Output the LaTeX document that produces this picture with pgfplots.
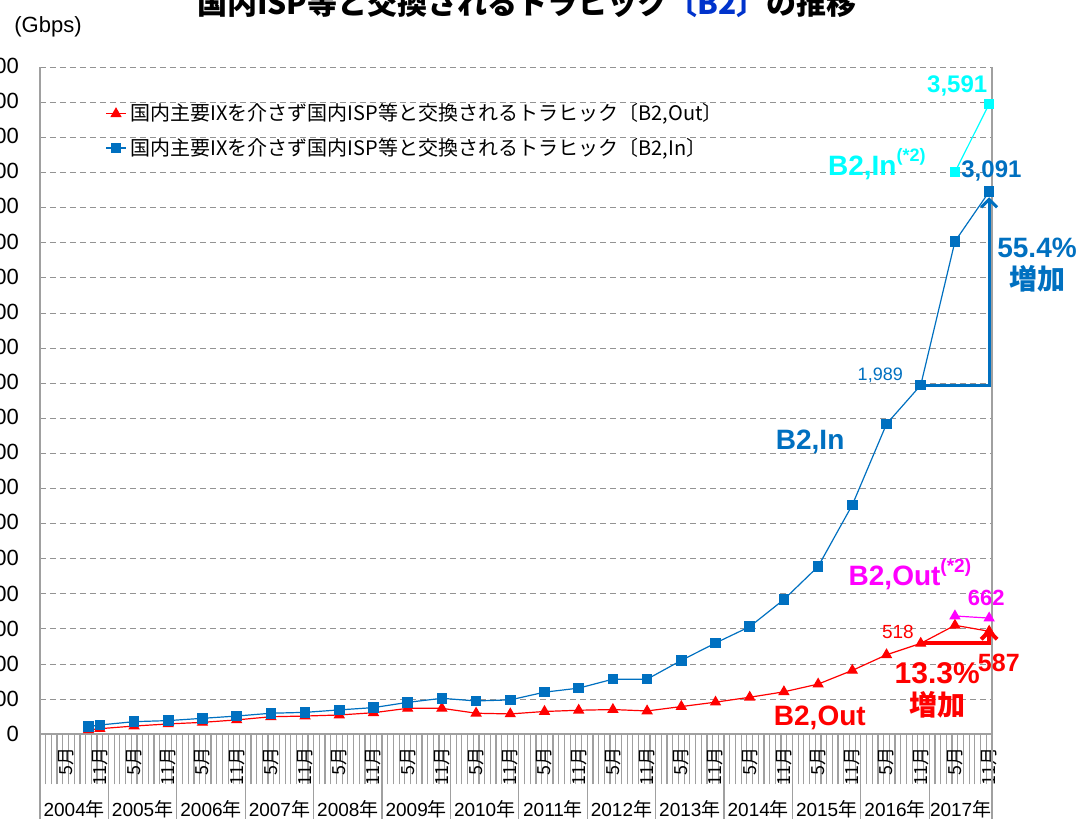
\documentclass[border=0pt]{standalone}
\usepackage{fontspec}
\setmainfont{Liberation Sans}
\newfontfamily\jp{Noto Sans CJK JP}
\usepackage{pgfplots}
\pgfplotsset{compat=1.18}
\usetikzlibrary{arrows.meta}
\definecolor{inblue}{RGB}{0,112,192}
\definecolor{outred}{RGB}{255,0,0}
\definecolor{incyan}{RGB}{0,255,255}
\definecolor{outmag}{RGB}{255,0,255}
\definecolor{titleblue}{RGB}{0,51,204}
\definecolor{axgray}{RGB}{160,160,160}

\begin{document}
\begin{tikzpicture}
% the reference image is cropped on the left and at the top
\path[use as bounding box, clip] (-20pt,-42.35pt) rectangle (519pt,367.15pt);
\begin{axis}[
  at={(0,0)}, anchor=south west,
  scale only axis, width=476pt, height=333.5pt,
  xmin=0, xmax=167, ymin=0, ymax=3800,
  clip=false,
  axis lines*=left,
  axis line style={axgray, line width=0.9pt},
  ytick={0,200,...,3800},
  ymajorgrids,
  grid style={densely dashed, gray!85, line width=0.5pt},
  ytick style={draw=none},
  scaled y ticks=false,
  /pgf/number format/assume math mode=true,
  /pgf/number format/1000 sep={,},
  yticklabel style={font=\fontsize{11}{13}\selectfont, xshift=-7pt},
  xtick={4.5,10.5,...,166.5},
  xticklabels={5月,11月,5月,11月,5月,11月,5月,11月,5月,11月,5月,11月,5月,11月,
               5月,11月,5月,11月,5月,11月,5月,11月,5月,11月,5月,11月,5月,11月},
  xticklabel style={font=\jp\fontsize{9}{10}\selectfont, rotate=90, anchor=east},
  xticklabel shift=3pt,
  major tick length=0pt,
  minor xtick={0,1,...,167},
  minor tick length=25pt,
  tick align=outside,
  minor tick style={axgray, line width=0.6pt},
  legend style={at={(0.062,0.958)}, anchor=north west, draw=none, fill=none,
    font=\jp\fontsize{10}{11}\selectfont, row sep=3pt},
  legend cell align=left,
  legend image code/.code={\draw[mark repeat=2, mark phase=2, #1]
    plot coordinates {(0pt,0pt) (5pt,0pt) (10pt,0pt)};},
]

% B2,Out
\addplot[color=outred, line width=0.6pt, mark=triangle*, mark size=2.7pt,
  mark options={solid}] coordinates {
  (8.5,25) (10.5,32) (16.5,47) (22.5,59) (28.5,68) (34.5,82) (40.5,100)
  (46.5,104) (52.5,110) (58.5,123) (64.5,148) (70.5,148) (76.5,120) (82.5,116)
  (88.5,130) (94.5,137) (100.5,141) (106.5,133) (112.5,158) (118.5,183)
  (124.5,211) (130.5,242) (136.5,286) (142.5,364) (148.5,453) (154.5,518)
  (160.5,621) (166.5,587)
};
\addlegendentry{国内主要IXを介さず国内ISP等と交換されるトラヒック〔B2,Out〕}

% B2,In
\addplot[color=inblue, line width=0.6pt, mark=square*, mark size=2.35pt,
  mark options={solid}] coordinates {
  (8.5,43) (10.5,53) (16.5,72) (22.5,78) (28.5,91) (34.5,104) (40.5,120)
  (46.5,125) (52.5,139) (58.5,152) (64.5,182) (70.5,205) (76.5,190) (82.5,196)
  (88.5,240) (94.5,263) (100.5,314) (106.5,314) (112.5,421) (118.5,520)
  (124.5,613) (130.5,768) (136.5,956) (142.5,1307) (148.5,1768) (154.5,1989)
  (160.5,2808) (166.5,3091)
};
\addlegendentry{国内主要IXを介さず国内ISP等と交換されるトラヒック〔B2,In〕}

% revised series (*2)
\addplot[forget plot, color=incyan, line width=0.6pt, mark=square*, mark size=2.35pt]
  coordinates {(160.5,3203) (166.5,3591)};
\addplot[forget plot, color=outmag, line width=0.6pt, mark=triangle*, mark size=2.7pt]
  coordinates {(160.5,674) (166.5,662)};

% year separators and labels
\pgfplotsinvokeforeach{0,1,...,13}{
  \draw[axgray, line width=0.6pt] (axis cs:{12*#1},0) -- ++(0pt,-46pt);
}
\draw[axgray, line width=0.9pt] (axis cs:167,0) -- ++(0pt,-46pt);
\draw[axgray, line width=0.9pt] (rel axis cs:1,0) -- (rel axis cs:1,1);
\pgfplotsinvokeforeach{0,1,...,12}{
  \node[font=\fontsize{9.5}{10}\selectfont] at (axis cs:{12*#1+6},0)
    [yshift=-37.5pt] {\the\numexpr2004+#1\relax{\jp 年}};
}
\node[font=\fontsize{9.5}{10}\selectfont] at (axis cs:161.5,0)
  [yshift=-37.5pt] {2017{\jp 年}};

% titles
\node[anchor=base, font=\jp\bfseries\fontsize{15}{16}\selectfont]
  at (axis cs:85.4,4100) {国内ISP等と交換されるトラヒック\textcolor{titleblue}{〔B2〕}の推移};
\node[font=\fontsize{11}{12}\selectfont] at (axis cs:1.4,4030) {(Gbps)};

% annotations
\draw[inblue, line width=1.5pt, -{Straight Barb[length=4pt, width=8pt]}]
  (axis cs:154.5,1989) -- (axis cs:166.5,1989) -- (axis cs:166.5,3060);
\draw[outred, line width=2pt, -{Straight Barb[length=4pt, width=8pt]}]
  (axis cs:154.5,518) -- (axis cs:166.5,518) -- (axis cs:166.5,603);

\node[text=incyan, font=\bfseries\fontsize{12}{13}\selectfont]
  at (axis cs:160.9,3694) {3,591};
\node[text=incyan, font=\bfseries\fontsize{14}{15}\selectfont]
  at (axis cs:146.8,3249) {B2,In\raisebox{0.9ex}{\fontsize{9}{9}\selectfont(*2)}};
\node[text=inblue, font=\bfseries\fontsize{12}{13}\selectfont]
  at (axis cs:166.9,3209) {3,091};
\node[text=inblue, font=\bfseries\fontsize{14}{16}\selectfont, align=center]
  at (axis cs:174.9,2673) {55.4\%\\{\jp 増加}};
\node[text=inblue, font=\fontsize{9}{10}\selectfont]
  at (axis cs:147.4,2046) {1,989};
\node[text=inblue, font=\bfseries\fontsize{14}{16}\selectfont]
  at (axis cs:135.1,1666) {B2,In};

\node[text=outmag, font=\bfseries\fontsize{14}{15}\selectfont]
  at (axis cs:152.6,910) {B2,Out\raisebox{0.9ex}{\fontsize{9.5}{9.5}\selectfont(*2)}};
\node[text=outmag, font=\bfseries\fontsize{11}{12}\selectfont]
  at (axis cs:166,777) {662};
\node[text=outred, font=\fontsize{9.5}{10}\selectfont]
  at (axis cs:150.5,583) {518};
\node[text=outred, font=\bfseries\fontsize{12.5}{14}\selectfont]
  at (axis cs:168.2,406) {587};
\node[text=outred, font=\bfseries\fontsize{15}{16}\selectfont, align=center]
  at (axis cs:157.4,250) {13.3\%\\{\jp\fontsize{14}{15}\selectfont 増加}};
\node[text=outred, font=\bfseries\fontsize{14}{15}\selectfont]
  at (axis cs:136.8,93) {B2,Out};

\end{axis}
\end{tikzpicture}
\end{document}
